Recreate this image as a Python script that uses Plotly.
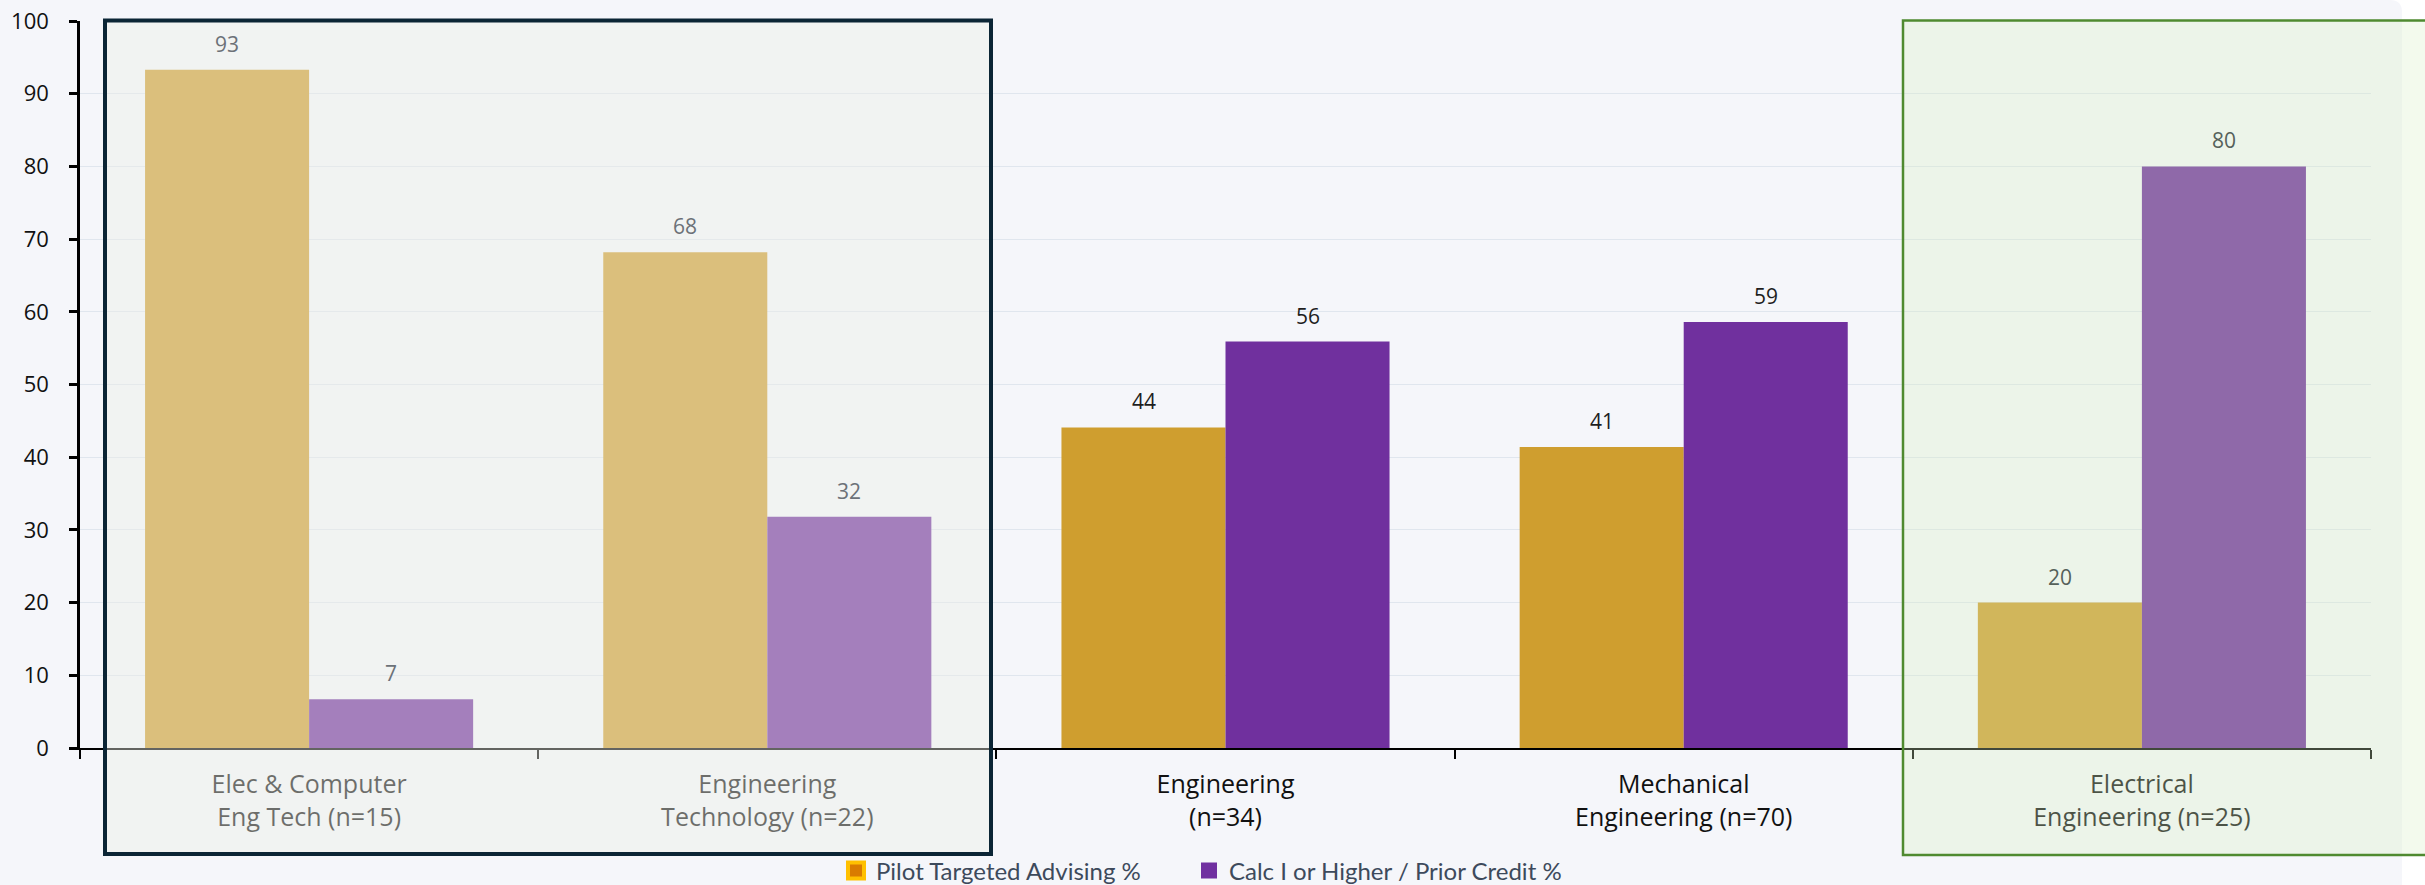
import plotly.graph_objects as go

# ---- data ----
categories = [
    "Elec & Computer<br>Eng Tech (n=15)",
    "Engineering<br>Technology (n=22)",
    "Engineering<br>(n=34)",
    "Mechanical<br>Engineering (n=70)",
    "Electrical<br>Engineering (n=25)",
]
pilot_pct = [93.3, 68.2, 44.1, 41.4, 20.0]
calc_pct = [6.7, 31.8, 55.9, 58.6, 80.0]
series_names = ["Pilot Targeted Advising %", "Calc I or Higher / Prior Credit %"]
label_colors = ["#6C7178", "#6C7178", "#1E1E1E", "#1E1E1E", "#55615A"]
y_ticks = [0, 10, 20, 30, 40, 50, 60, 70, 80, 90, 100]

GOLD = "#CF9E2F"
PURPLE = "#70309E"

W, H = 2425, 885
L, R, T, B = 80, 54, 21, 137
PW = W - L - R
PH = H - T - B


def px_x(px):
    return (px - L) / PW


def px_y(py):
    return (H - B - py) / PH


fig = go.Figure()
fig.add_trace(go.Bar(x=categories, y=pilot_pct, name=series_names[0],
                     marker=dict(color=GOLD, line=dict(width=0)), showlegend=False,
                     hoverinfo="y"))
fig.add_trace(go.Bar(x=categories, y=calc_pct, name=series_names[1],
                     marker=dict(color=PURPLE, line=dict(width=0)), showlegend=False,
                     hoverinfo="y"))

# legend-only traces
fig.add_trace(go.Scatter(x=[None], y=[None], mode="markers", name=series_names[0],
                         legend="legend",
                         marker=dict(symbol="square", size=16, color="#D97B00",
                                     line=dict(color="#FFC000", width=4))))
fig.add_trace(go.Scatter(x=[None], y=[None], mode="markers", name=series_names[1],
                         legend="legend2",
                         marker=dict(symbol="square", size=16, color="#7030A0")))

# data labels
annotations = []
for i, c in enumerate(categories):
    for val, shift in ((pilot_pct[i], -82), (calc_pct[i], 82)):
        annotations.append(dict(x=c, y=val, xref="x", yref="y", text=f"{round(val)}",
                                showarrow=False, xshift=shift, yshift=26,
                                yanchor="middle",
                                font=dict(family="Open Sans", size=21, color=label_colors[i])))

# background (rounded top-right corner)
x0b, x1b = px_x(0), px_x(2402)
y0b, y1b = px_y(886), px_y(0)
rx, ry = 12 / PW, 12 / PH
bg_path = (f"M {x0b},{y0b} L {x0b},{y1b} L {x1b - rx},{y1b} "
           f"Q {x1b},{y1b} {x1b},{y1b - ry} L {x1b},{y0b} Z")

shapes = [
    dict(type="path", xref="paper", yref="paper", path=bg_path,
         fillcolor="#F5F6FA", line=dict(width=0), layer="below"),
    # left dark box (overlay)
    dict(type="rect", xref="paper", yref="paper",
         x0=px_x(105), x1=px_x(991), y0=px_y(854), y1=px_y(20.5),
         fillcolor="rgba(236,238,230,0.42)", line=dict(color="#0B2535", width=4),
         layer="above"),
    # right green box (overlay)
    dict(type="rect", xref="paper", yref="paper",
         x0=px_x(1903), x1=px_x(2428), y0=px_y(855), y1=px_y(20.5),
         fillcolor="rgba(214,238,197,0.30)", line=dict(color="#4F8A30", width=2.5),
         layer="above"),
]

legend_common = dict(orientation="h", xanchor="left",
                     yref="container", y=1 - 871 / H, yanchor="middle",
                     font=dict(family="Lato", size=24, color="#3D4A5C"),
                     bgcolor="rgba(0,0,0,0)", itemsizing="trace")

fig.update_layout(
    width=W, height=H,
    margin=dict(l=L, r=R, t=T, b=B, pad=0, autoexpand=False),
    paper_bgcolor="#FFFFFF",
    plot_bgcolor="#F5F6FA",
    barmode="group",
    bargap=0.284,
    bargroupgap=0,
    font=dict(family="Open Sans", color="#111111"),
    shapes=shapes,
    annotations=annotations,
    legend=dict(x=px_x(836), **legend_common),
    legend2=dict(x=px_x(1189), **legend_common),
    xaxis=dict(
        type="category",
        automargin=False,
        showline=True, linecolor="#000000", linewidth=2,
        ticks="outside", tickson="boundaries", ticklen=9, tickwidth=2, tickcolor="#000000",
        tickfont=dict(family="Open Sans", size=25, color="#111111"),
        showgrid=False, zeroline=False,
        range=[-0.5, 4.5],
        ticklabelstandoff=13,
    ),
    yaxis=dict(
        automargin=False,
        range=[0, 100],
        tickvals=y_ticks,
        showline=True, linecolor="#000000", linewidth=2.5,
        ticks="outside", ticklen=8, tickwidth=2.5, tickcolor="#000000",
        tickfont=dict(family="Open Sans", size=22, color="#111111"),
        showgrid=True, gridcolor="#E0E6EE", gridwidth=1,
        zeroline=False,
        ticklabelstandoff=16,
    ),
)

fig.write_html("out.html")
